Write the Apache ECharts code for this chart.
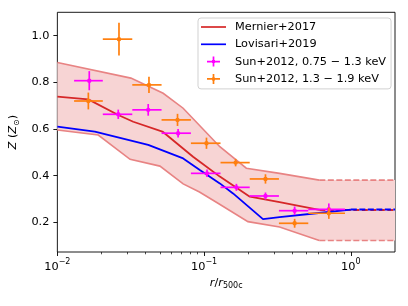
<!DOCTYPE html>
<html><head><meta charset="utf-8">
<script src="https://cdn.jsdelivr.net/npm/echarts@6/dist/echarts.min.js"></script>
<style>html,body{margin:0;padding:0;background:#fff}#c{width:408px;height:306px}</style>
</head><body><div id="c"></div>
<script>
// ---- data ----
const xTicks = [0.01, 0.1, 1];
const xMinorTicks = [0.02,0.03,0.04,0.05,0.06,0.07,0.08,0.09,0.2,0.3,0.4,0.5,0.6,0.7,0.8,0.9];
const yTicks = [0.2, 0.4, 0.6, 0.8, 1.0];

const mernierR = [0.01, 0.01625, 0.026, 0.0329, 0.052, 0.0841, 0.0935, 0.128, 0.205, 0.327, 0.61];
const mernierZ = [0.739, 0.727, 0.66, 0.631, 0.589, 0.481, 0.46, 0.396, 0.31, 0.287, 0.253];
const mernierExtR = [0.61, 2.0];
const mernierExtZ = [0.253, 0.253];

const lovisariR = [0.01, 0.018, 0.0416, 0.072, 0.0935, 0.128, 0.1575, 0.252, 0.327, 0.582, 1.0];
const lovisariZ = [0.61, 0.589, 0.532, 0.474, 0.424, 0.367, 0.324, 0.214, 0.222, 0.239, 0.255];
const lovisariExtR = [1.0, 2.0];
const lovisariExtZ = [0.255, 0.255];

const bandUpR = [0.01, 0.0317, 0.0526, 0.072, 0.128, 0.194, 0.327, 0.61];
const bandUpZ = [0.885, 0.818, 0.753, 0.689, 0.524, 0.432, 0.41, 0.381];
const bandUpExtR = [0.61, 2.0];
const bandUpExtZ = [0.381, 0.381];
const bandLoR = [0.01, 0.019, 0.0313, 0.05, 0.072, 0.093, 0.122, 0.199, 0.327, 0.61];
const bandLoZ = [0.596, 0.574, 0.47, 0.441, 0.365, 0.33, 0.285, 0.203, 0.18, 0.122];
const bandLoExtR = [0.61, 2.0];
const bandLoExtZ = [0.122, 0.122];

const sunLowR   = [0.0165, 0.026, 0.0416, 0.0665, 0.1047, 0.166, 0.262, 0.414, 0.708];
const sunLowRLo = [0.0130, 0.0204, 0.0324, 0.0513, 0.0813, 0.1294, 0.2046, 0.3236, 0.5129];
const sunLowRHi = [0.0204, 0.0324, 0.0513, 0.0813, 0.1294, 0.2046, 0.3236, 0.5129, 0.912];
const sunLowZ   = [0.807, 0.663, 0.682, 0.582, 0.410, 0.350, 0.313, 0.250, 0.256];
const sunLowZErr= [0.041, 0.02, 0.025, 0.018, 0.016, 0.015, 0.015, 0.018, 0.025];

const sunHighR   = [0.01626, 0.0263, 0.0421, 0.0659, 0.1038, 0.164, 0.262, 0.414, 0.708];
const sunHighRLo = [0.0130, 0.0204, 0.0324, 0.0513, 0.0813, 0.1294, 0.2046, 0.3236, 0.5129];
const sunHighRHi = [0.0204, 0.0324, 0.0513, 0.0813, 0.1294, 0.2046, 0.3236, 0.5129, 0.912];
const sunHighZ   = [0.720, 0.985, 0.789, 0.639, 0.539, 0.456, 0.386, 0.196, 0.239];
const sunHighZErr= [0.036, 0.07, 0.035, 0.026, 0.024, 0.016, 0.02, 0.019, 0.024];

const names = ['Mernier+2017', 'Lovisari+2019', 'Sun+2012, 0.75 \u2212 1.3 keV', 'Sun+2012, 1.3 \u2212 1.9 keV'];

// ---- chart ----
const FF = 'DejaVu Sans';
const RED = '#d62728', BLUE = '#0000ff', MAG = '#ff00ff', ORA = '#ff7f0e';
const BAND_FILL = '#f7d4d4', BAND_EDGE = '#e88383';
const zip = (a, b) => a.map((v, i) => [v, b[i]]);
const crossIcon = 'path://M0,0M25,10M6,4.15h13v1.7h-13zM11.65,0h1.7v10h-1.7zM11,3.5h3v3h-3z';
const lineIcon = 'path://M0,0M25,10M0,4.15h25v1.7h-25z';

function errRender(color) {
  return function (params, api) {
    const r = api.value(0), z = api.value(1), lo = api.value(2), hi = api.value(3), e = api.value(4);
    const c = api.coord([r, z]);
    const pl = api.coord([lo, z]), ph = api.coord([hi, z]);
    const pt = api.coord([r, z + e]), pb = api.coord([r, z - e]);
    const st = { stroke: color, lineWidth: 1.7 };
    return { type: 'group', children: [
      { type: 'line', shape: { x1: pl[0], y1: c[1], x2: ph[0], y2: c[1] }, style: st },
      { type: 'line', shape: { x1: c[0], y1: pt[1], x2: c[0], y2: pb[1] }, style: st },
      { type: 'circle', shape: { cx: c[0], cy: c[1], r: 2.2 }, style: { fill: color } }
    ]};
  };
}

function bandRender(params, api) {
  const up = zip(bandUpR, bandUpZ).map(p => api.coord(p));
  const upE = zip(bandUpExtR, bandUpExtZ).map(p => api.coord(p));
  const lo = zip(bandLoR, bandLoZ).map(p => api.coord(p));
  const loE = zip(bandLoExtR, bandLoExtZ).map(p => api.coord(p));
  const poly = up.concat(upE.slice(1)).concat(lo.concat(loE.slice(1)).reverse());
  const solid = { stroke: BAND_EDGE, lineWidth: 1.6, fill: null };
  const dashed = { stroke: BAND_EDGE, lineWidth: 1.6, fill: null, lineDash: [6, 2.5] };
  return { type: 'group', children: [
    { type: 'polygon', shape: { points: poly }, style: { fill: BAND_FILL } },
    { type: 'polyline', shape: { points: up }, style: solid },
    { type: 'polyline', shape: { points: lo }, style: solid },
    { type: 'polyline', shape: { points: upE }, style: dashed },
    { type: 'polyline', shape: { points: loE }, style: dashed }
  ]};
}

const expFmt = v => {
  const e = Math.round(Math.log10(v));
  return '{b|10}{s|' + (e < 0 ? '\u2212' + (-e) : String(e)) + '}';
};

const chart = echarts.init(document.getElementById('c'), null, { renderer: 'canvas' });
chart.setOption({
  animation: false,
  backgroundColor: '#fff',
  grid: { left: 57.3, top: 12.3, width: 337.7, height: 239.7, show: true, borderColor: '#000', borderWidth: 0.9, backgroundColor: 'transparent' },
  legend: {
    orient: 'vertical', left: 198, top: 18, itemWidth: 25, itemHeight: 10, itemGap: 3.3,
    padding: [2, 5, 3, 3],
    backgroundColor: 'rgba(255,255,255,0.8)', borderColor: '#cccccc', borderWidth: 0.9, borderRadius: 3,
    textStyle: { fontFamily: FF, fontSize: 11.3, color: '#000', lineHeight: 14, padding: [0, 0, 0, 4] },
    data: [
      { name: names[0], icon: lineIcon }, { name: names[1], icon: lineIcon },
      { name: names[2], icon: crossIcon }, { name: names[3], icon: crossIcon }
    ]
  },
  xAxis: [
    {
      type: 'log', logBase: 10, min: 0.01, max: 2, position: 'bottom',
      axisLine: { show: false },
      splitLine: { show: false },
      axisTick: { show: true, customValues: xTicks, length: 4, lineStyle: { color: '#000', width: 0.9 } },
      axisLabel: { customValues: xTicks, formatter: expFmt, margin: 6, color: '#000',
        rich: {
          b: { fontFamily: FF, fontSize: 11.3, color: '#000', lineHeight: 15, verticalAlign: 'bottom' },
          s: { fontFamily: FF, fontSize: 8, color: '#000', lineHeight: 15, verticalAlign: 'top' }
        } },
      name: '{i|r}{n|/}{i|r}{sub|500c}', nameLocation: 'middle', nameGap: 21,
      nameTextStyle: { rich: {
        i: { fontFamily: FF, fontSize: 11.3, fontStyle: 'italic', color: '#000', lineHeight: 14, verticalAlign: 'middle' },
        n: { fontFamily: FF, fontSize: 11.3, color: '#000', lineHeight: 14, verticalAlign: 'middle' },
        sub: { fontFamily: FF, fontSize: 8, color: '#000', lineHeight: 14, verticalAlign: 'bottom' }
      } }
    },
    {
      type: 'log', logBase: 10, min: 0.01, max: 2, position: 'bottom',
      axisLine: { show: false }, splitLine: { show: false },
      axisTick: { show: true, customValues: xMinorTicks, length: 2.3, lineStyle: { color: '#000', width: 0.7 } },
      axisLabel: { show: false }
    }
  ],
  yAxis: {
    type: 'value', min: 0.073, max: 1.1,
    axisLine: { show: false }, splitLine: { show: false },
    axisTick: { show: true, customValues: yTicks, length: 4, lineStyle: { color: '#000', width: 0.9 } },
    axisLabel: { customValues: yTicks, formatter: v => v.toFixed(1), margin: 8, fontFamily: FF, fontSize: 11.3, color: '#000' },
    name: '{i|Z} ({i|Z}{sub|\u2299})', nameLocation: 'middle', nameGap: 27,
    nameTextStyle: { rich: {
      i: { fontFamily: FF, fontSize: 11.3, fontStyle: 'italic', color: '#000', lineHeight: 14, verticalAlign: 'middle' },
      sub: { fontFamily: FF, fontSize: 8, color: '#000', lineHeight: 14, verticalAlign: 'bottom' }
    }, fontFamily: FF, fontSize: 11.3, color: '#000' }
  },
  series: [
    { name: 'band', type: 'custom', xAxisIndex: 0, renderItem: bandRender, data: [[0.1, 0.5]], z: 1, silent: true },
    { name: names[0], type: 'line', xAxisIndex: 0, data: zip(mernierR, mernierZ), symbol: 'none', z: 2,
      lineStyle: { color: RED, width: 1.8 }, itemStyle: { color: RED } },
    { name: 'Mernier ext', type: 'line', xAxisIndex: 0, data: zip(mernierExtR, mernierExtZ), symbol: 'none', z: 2,
      lineStyle: { color: RED, width: 1.8, type: [6, 2.5] }, itemStyle: { color: RED } },
    { name: names[1], type: 'line', xAxisIndex: 0, data: zip(lovisariR, lovisariZ), symbol: 'none', z: 3,
      lineStyle: { color: BLUE, width: 1.8 }, itemStyle: { color: BLUE } },
    { name: 'Lovisari ext', type: 'line', xAxisIndex: 0, data: zip(lovisariExtR, lovisariExtZ), symbol: 'none', z: 3,
      lineStyle: { color: BLUE, width: 1.8, type: [6, 2.5] }, itemStyle: { color: BLUE } },
    { name: names[2], type: 'custom', xAxisIndex: 0, renderItem: errRender(MAG), z: 4, itemStyle: { color: MAG },
      encode: { x: 0, y: 1 },
      data: sunLowR.map((r, i) => [r, sunLowZ[i], sunLowRLo[i], sunLowRHi[i], sunLowZErr[i]]) },
    { name: names[3], type: 'custom', xAxisIndex: 0, renderItem: errRender(ORA), z: 5, itemStyle: { color: ORA },
      encode: { x: 0, y: 1 },
      data: sunHighR.map((r, i) => [r, sunHighZ[i], sunHighRLo[i], sunHighRHi[i], sunHighZErr[i]]) }
  ]
});
</script></body></html>
